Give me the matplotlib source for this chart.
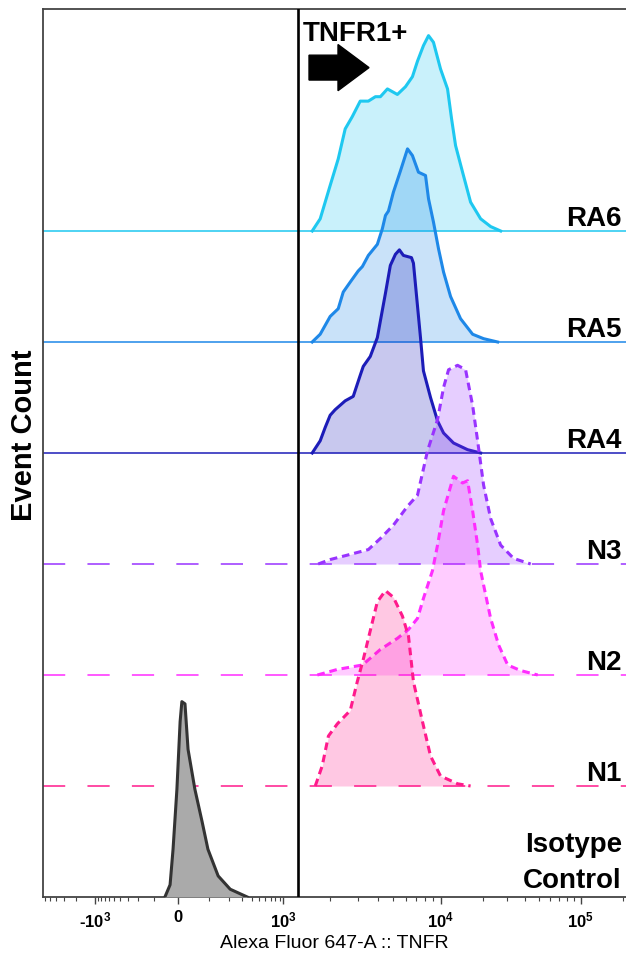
import numpy as np
import matplotlib.pyplot as plt
from matplotlib.patches import FancyArrow

plt.rcParams['font.family'] = ['Liberation Sans', 'DejaVu Sans']
plt.rcParams['mathtext.fontset'] = 'custom'
plt.rcParams['mathtext.rm'] = 'Liberation Sans'
plt.rcParams['mathtext.bf'] = 'Liberation Sans:bold'
plt.rcParams['lines.scale_dashes'] = False

# TNFR intensity (x) and event count scaled to the track spacing (y)
ra6_x = [1530, 1720, 1990, 2240, 2480, 2750, 3090, 3480, 3860, 4150, 4600, 5320, 5990, 6630,
         7140, 7790, 8390, 9020, 10000, 11220, 11990, 12800, 14360, 16380, 19310, 22760, 26830]
ra6_y = [0, 0.11, 0.41, 0.65, 0.92, 1.03, 1.17, 1.17, 1.21, 1.21, 1.28, 1.23, 1.30, 1.39,
         1.53, 1.67, 1.76, 1.70, 1.46, 1.28, 1.01, 0.77, 0.53, 0.26, 0.11, 0.04, 0]

ra5_x = [1530, 1720, 1990, 2240, 2410, 2670, 3000, 3190, 3480, 3970, 4270, 4470, 4670, 5020,
         5560, 6170, 6630, 7240, 8030, 8390, 9020, 9710, 10510, 11790, 13890, 16930, 20280, 25530]
ra5_y = [0, 0.07, 0.23, 0.30, 0.45, 0.54, 0.64, 0.68, 0.78, 0.88, 1.02, 1.14, 1.18, 1.35,
         1.54, 1.74, 1.68, 1.53, 1.50, 1.29, 1.08, 0.84, 0.63, 0.41, 0.21, 0.07, 0.03, 0]

ra4_x = [1530, 1720, 1850, 1990, 2140, 2480, 2790, 3090, 3230, 3580, 3970, 4150, 4470, 4800,
         5170, 5480, 5810, 6540, 6730, 7460, 7790, 8640, 9570, 10510, 12380, 15590, 19310]
ra4_y = [0, 0.11, 0.23, 0.34, 0.39, 0.47, 0.51, 0.70, 0.78, 0.87, 1.04, 1.19, 1.44, 1.69,
         1.79, 1.83, 1.78, 1.76, 1.71, 1.04, 0.74, 0.50, 0.29, 0.18, 0.09, 0.03, 0]

n3_x = [1670, 1990, 2560, 3480, 4150, 5020, 6170, 7140, 8270, 9570, 10510, 11410, 13230,
        15090, 16930, 18380, 20280, 22760, 26830, 33220, 43940]
n3_y = [0, 0.04, 0.08, 0.13, 0.23, 0.35, 0.52, 0.62, 1.02, 1.30, 1.59, 1.75, 1.79,
        1.75, 1.43, 1.11, 0.71, 0.41, 0.17, 0.05, 0]

n2_x = [1650, 2210, 3190, 4150, 5320, 6260, 7140, 7790, 8890, 9570, 10510, 12380, 14360,
        15590, 16930, 18380, 19310, 20280, 22760, 25960, 30110, 37270, 49310]
n2_y = [0, 0.05, 0.09, 0.23, 0.33, 0.41, 0.51, 0.69, 0.94, 1.17, 1.48, 1.79, 1.73,
        1.75, 1.48, 1.17, 0.94, 0.81, 0.51, 0.27, 0.09, 0.04, 0]

n1_x = [1600, 1770, 1940, 2210, 2670, 2960, 3230, 3580, 3970, 4470, 5020, 5730, 6260,
        6730, 7680, 8640, 10000, 13230, 16380]
n1_y = [0, 0.18, 0.45, 0.56, 0.68, 0.94, 1.14, 1.40, 1.66, 1.76, 1.70, 1.53, 1.35,
        0.94, 0.58, 0.27, 0.09, 0.02, 0]

iso_x = [-49, -29, -18, -4, 6, 11, 20, 29, 50, 74, 96, 141, 210, 353]
iso_y = [0, 0.11, 0.43, 0.97, 1.58, 1.76, 1.74, 1.33, 0.97, 0.68, 0.43, 0.19, 0.07, 0]

names = ['RA6', 'RA5', 'RA4', 'N3', 'N2', 'N1', 'Isotype\nControl']
curves_x = [ra6_x, ra5_x, ra4_x, n3_x, n2_x, n1_x, iso_x]
curves_y = [ra6_y, ra5_y, ra4_y, n3_y, n2_y, n1_y, iso_y]
colors = ['#1ec8f0', '#1e88e8', '#1c1cb8', '#9933ff', '#ff2cff', '#ff1a8c', '#333333']
dashed = [False, False, False, True, True, True, False]

gate = 1250
tick_vals = [-1e3, 0, 1e3, 1e4, 1e5]
tick_labels = [r'-$\mathbf{10^{3}}$', '0', r'$\mathbf{10^{3}}$', r'$\mathbf{10^{4}}$', r'$\mathbf{10^{5}}$']

# biexponential-like display scale (arcsinh, then stretched per segment)
W = 100.0
G = np.arcsinh(np.array(tick_vals) / W)
P = np.array([95, 178, 283, 440, 580.0])


def pw(v, xs, ys):
    v = np.asarray(v, dtype=float)
    s0 = (ys[1] - ys[0]) / (xs[1] - xs[0])
    s1 = (ys[-1] - ys[-2]) / (xs[-1] - xs[-2])
    return np.where(v < xs[0], ys[0] + (v - xs[0]) * s0,
                    np.where(v > xs[-1], ys[-1] + (v - xs[-1]) * s1, np.interp(v, xs, ys)))


def fwd(x):
    return pw(np.arcsinh(np.asarray(x, dtype=float) / W), G, P)


def inv(p):
    return W * np.sinh(pw(p, P, G))


fig = plt.figure(figsize=(6.26, 9.54), dpi=100)
ax = fig.add_axes([43 / 626, 56 / 954, 583 / 626, 888 / 954])
ax.set_xscale('function', functions=(fwd, inv))
ax.set_xlim(-6500, 2.1e5)
ax.set_ylim(0, 8)

n = len(names)
for i in range(n):
    off = n - 1 - i
    col = colors[i]
    xs = np.array(curves_x[i], dtype=float)
    ys = off + np.array(curves_y[i])
    if i < n - 1:
        ax.axhline(off, color=col, lw=1.1, ls=(0, (16, 16)) if dashed[i] else '-', zorder=1)
        ax.fill_between(xs, off, ys, color=col, alpha=0.24, lw=0, zorder=2 + i)
    else:
        ax.fill_between(xs, off, ys, color='#aaaaaa', lw=0, zorder=2 + i)
    ax.plot(xs, ys, color=col, lw=2.2, ls=(0, (5.5, 3.5)) if dashed[i] else '-',
            zorder=2 + i, solid_joinstyle='round')
    lines = names[i].split('\n')[::-1]
    lift = 0.05 if len(lines) == 1 else 0.09
    for k, line in enumerate(lines):
        ax.text(0.993, off + lift + 0.324 * k, line, transform=ax.get_yaxis_transform(),
                ha='right', va='baseline', fontsize=20, fontweight='bold', zorder=20)

ax.axvline(gate, color='black', lw=1.9, zorder=15)
ax.text(0.446, 0.9875, 'TNFR1+', transform=ax.transAxes, ha='left', va='top',
        fontsize=20, fontweight='bold', zorder=20)
ax.add_patch(FancyArrow(0.4563, 0.934, 0.1029, 0, width=0.028, head_width=0.052,
                        head_length=0.0532, length_includes_head=True,
                        transform=ax.transAxes, color='black', zorder=20))

minor = ([-6000, -5000, -4000, -3000, -2000] + [-v for v in range(900, 0, -100)]
         + list(range(100, 1000, 100)) + [k * 1e3 for k in range(2, 10)]
         + [k * 1e4 for k in range(2, 10)] + [2e5])
ax.set_xticks(tick_vals, tick_labels, fontweight='bold')
ax.set_xticks(minor, minor=True)
ax.tick_params(axis='x', which='major', length=5, width=1, pad=4, labelsize=12, color='#444444')
ax.tick_params(axis='x', which='minor', length=3, width=0.8, color='#444444')
ax.set_yticks([])
ax.set_xlabel('Alexa Fluor 647-A :: TNFR', fontsize=14, labelpad=3)

for s in ['left', 'top', 'bottom']:
    ax.spines[s].set_color('#444444')
    ax.spines[s].set_linewidth(1.3)
ax.spines['right'].set_visible(False)

fig.text(24 / 626, (954 - 435) / 954, 'Event Count', rotation=90, ha='center', va='center',
         fontsize=21, fontweight='bold')

fig.savefig('out.png', dpi=100)
